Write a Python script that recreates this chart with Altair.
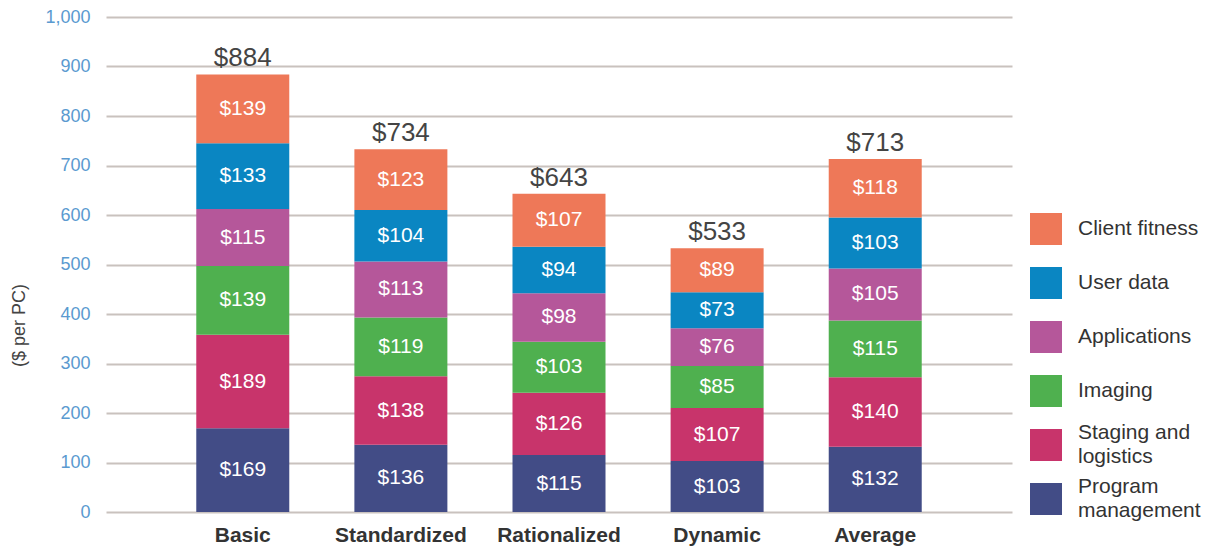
import altair as alt
import pandas as pd

categories = ["Basic", "Standardized", "Rationalized", "Dynamic", "Average"]
segments = ["Client fitness", "User data", "Applications", "Imaging",
            "Staging and logistics", "Program management"]
colors = ["#EE7858", "#0A86C2", "#B5579A", "#4FB04F", "#C8346B", "#424C86"]

program_management = [169, 136, 115, 103, 132]
staging_logistics = [189, 138, 126, 107, 140]
imaging = [139, 119, 103, 85, 115]
applications = [115, 113, 98, 76, 105]
user_data = [133, 104, 94, 73, 103]
client_fitness = [139, 123, 107, 89, 118]
totals_shown = [884, 734, 643, 533, 713]

series = {
    "Program management": program_management,
    "Staging and logistics": staging_logistics,
    "Imaging": imaging,
    "Applications": applications,
    "User data": user_data,
    "Client fitness": client_fitness,
}

rows = []
for rank, (seg, vals) in enumerate(series.items()):
    for cat, v in zip(categories, vals):
        rows.append({"category": cat, "segment": seg, "value": v, "rank": rank})
df = pd.DataFrame(rows)
tot_df = pd.DataFrame({"category": categories, "total": totals_shown})

FONT = "Liberation Sans"
BL = "\u2800"  # blank glyph used as spacer line

x_enc = alt.X("category:N", sort=categories,
              scale=alt.Scale(paddingInner=0.41, paddingOuter=0.57),
              axis=alt.Axis(title=None, domain=False, ticks=False, labelAngle=0,
                            labelFontWeight="bold", labelFontSize=21, labelColor="#333333",
                            labelFont=FONT, labelPadding=24))

y_scale = alt.Scale(domain=[0, 1000])

base = alt.Chart(df).transform_stack(
    stack="value", groupby=["category"], as_=["y0", "y1"],
    sort=[alt.SortField("rank", order="ascending")]
).transform_calculate(mid="(datum.y0 + datum.y1) / 2")

label_expr = ("datum.label == 'Staging and logistics' ? ['Staging and', '" + BL + "', 'logistics'] : "
              "datum.label == 'Program management' ? ['Program', '" + BL + "', 'management'] : "
              "['" + BL + "', datum.label, '" + BL + "']")

bars = base.mark_bar(size=93).encode(
    x=x_enc,
    y=alt.Y("y0:Q", scale=y_scale,
            axis=alt.Axis(title="($ per PC)", values=list(range(0, 1001, 100)), format=",.0f",
                          domain=False, ticks=False, grid=True, gridColor="#C9C2BE",
                          gridWidth=2, labelColor="#5A9AD0", labelFontSize=18,
                          labelFont=FONT, labelPadding=16, labelOffset=12,
                          titleFont=FONT, titleFontSize=18, titleFontWeight="normal",
                          titleColor="#444444", titleX=-87, titleY=308,
                          titleAngle=-90, titleBaseline="middle", titleAlign="center")),
    y2="y1:Q",
    color=alt.Color("segment:N",
                    scale=alt.Scale(domain=segments, range=colors),
                    legend=alt.Legend(title=None, orient="none", legendX=924, legendY=196,
                                      symbolType="square", symbolSize=1024,
                                      symbolStrokeWidth=0, labelFontSize=21,
                                      labelFont=FONT, labelColor="#333333",
                                      labelOffset=16, rowPadding=9, padding=0,
                                      labelLimit=300, labelExpr=label_expr)),
)

seg_labels = base.mark_text(color="white", fontSize=21, font=FONT, baseline="middle").encode(
    x=alt.X("category:N", sort=categories),
    y=alt.Y("mid:Q", scale=y_scale),
    text=alt.Text("value:Q", format="$,.0f"),
)

totals = alt.Chart(tot_df).mark_text(color="#444444", fontSize=26, font=FONT,
                                     baseline="middle", dy=-16).encode(
    x=alt.X("category:N", sort=categories),
    y=alt.Y("total:Q", scale=y_scale),
    text=alt.Text("total:Q", format="$,.0f"),
)

chart = alt.layer(bars, seg_labels, totals).properties(
    width=906, height=495,
    autosize=alt.AutoSizeParams(type="none"),
    padding={"left": 98, "top": 9, "right": 195, "bottom": 36},
).configure(
    view=alt.ViewConfig(stroke=None),
    style={"guide-label": {"dy": -12, "lineHeight": 12}},
)

chart.save("out.html", embed_options={"renderer": "svg", "actions": False})
